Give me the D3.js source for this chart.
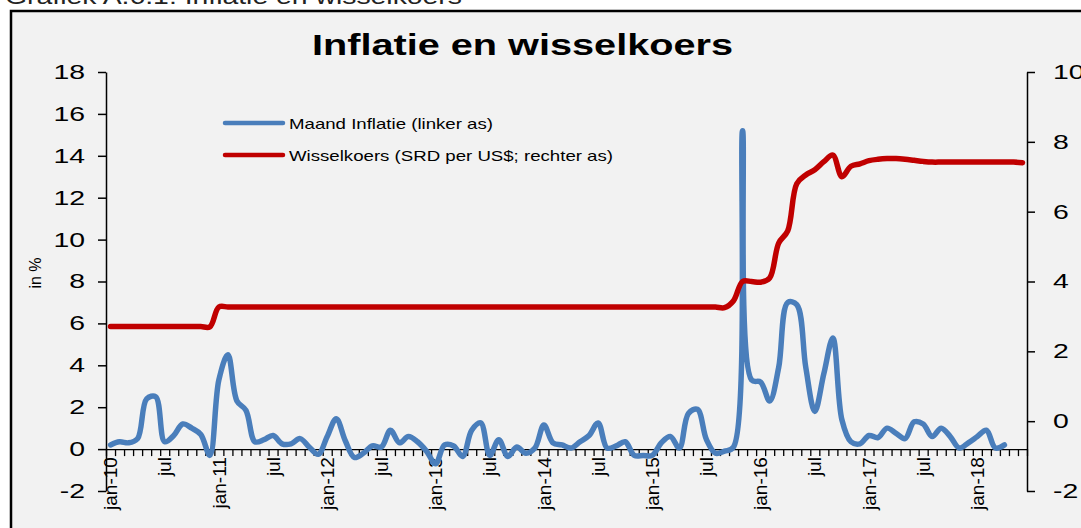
<!DOCTYPE html>
<html>
<head>
<meta charset="utf-8">
<script src="https://cdn.jsdelivr.net/npm/d3@7"></script>
<style>
  html, body { margin: 0; padding: 0; background: #ffffff; }
  svg { display: block; font-family: "Liberation Sans", Arial, sans-serif; }
</style>
</head>
<body>
<svg id="chart" width="1081" height="528"></svg>
<script>
// ---------- data ----------
const captionText = "Grafiek A.6.1: Inflatie en wisselkoers";
const titleText = "Inflatie en wisselkoers";
const yLabelText = "in %";
const seriesNames = ["Maand Inflatie (linker as)", "Wisselkoers (SRD per US$; rechter as)"];

// monthly categories jan-10 .. jun-18
const monthNames = ["jan","feb","mrt","apr","mei","jun","jul","aug","sep","okt","nov","dec"];
const yearsShort = ["10","11","12","13","14","15","16","17","18"];
const categories = [];
yearsShort.forEach(y => monthNames.forEach(m => categories.push(m + "-" + y)));
categories.splice(102); // up to jun-18

// x tick labels (every 6 months)
const tickLabels = ["jan-10","jul","jan-11","jul","jan-12","jul","jan-13","jul","jan-14","jul",
                    "jan-15","jul","jan-16","jul","jan-17","jul","jan-18"];
const tickCategories = ["jan-10","jul-10","jan-11","jul-11","jan-12","jul-12","jan-13","jul-13",
                        "jan-14","jul-14","jan-15","jul-15","jan-16","jul-16","jan-17","jul-17","jan-18"];

const leftTicks = [-2,0,2,4,6,8,10,12,14,16,18];
const rightTicks = [-2,0,2,4,6,8,10];

// Monthly inflation (%), jan-10 .. apr-18
const inflation = [
  0.2, 0.35, 0.3, 0.5, 2.4, 2.5, 0.35, 0.65, 1.2, 1.0, 0.7, -0.3,
  3.3, 4.5, 2.3, 1.85, 0.35, 0.45, 0.65, 0.25, 0.25, 0.5, 0.1, -0.25,
  0.6, 1.45, 0.4, -0.4, -0.2, 0.15, 0.1, 0.9, 0.3, 0.6, 0.35, -0.1,
  -0.7, 0.2, 0.15, -0.35, 0.9, 1.25, -0.3, 0.45, -0.35, 0.1, -0.2, 0.05,
  1.15, 0.3, 0.2, 0.05, 0.35, 0.65, 1.25, 0.05, 0.15, 0.35, -0.3, -0.3,
  -0.3, 0.3, 0.6, 0.05, 1.7, 1.9, 0.45, -0.2, -0.1, 0.1, 15.2, 3.3,
  3.2, 2.3, 3.9, 7.0, 6.9, 3.9, 1.8, 3.6, 5.3, 1.4, 0.35, 0.25,
  0.65, 0.55, 1.0, 0.75, 0.5, 1.3, 1.2, 0.6, 1.0, 0.6, 0.05, 0.3,
  0.6, 0.9, 0.05, 0.2
];

// Exchange rate (SRD per US$), jan-10 .. jun-18
const exchangeRate = [
  2.71, 2.71, 2.71, 2.71, 2.71, 2.71, 2.71, 2.71, 2.71, 2.71, 2.71, 2.70,
  3.27, 3.27, 3.27, 3.27, 3.27, 3.27, 3.27, 3.27, 3.27, 3.27, 3.27, 3.27,
  3.27, 3.27, 3.27, 3.27, 3.27, 3.27, 3.27, 3.27, 3.27, 3.27, 3.27, 3.27,
  3.27, 3.27, 3.27, 3.27, 3.27, 3.27, 3.27, 3.27, 3.27, 3.27, 3.27, 3.27,
  3.27, 3.27, 3.27, 3.27, 3.27, 3.27, 3.27, 3.27, 3.27, 3.27, 3.27, 3.27,
  3.27, 3.27, 3.27, 3.27, 3.27, 3.27, 3.27, 3.27, 3.25, 3.45, 4.0, 4.0,
  3.98, 4.1, 5.1, 5.45, 6.8, 7.05, 7.2, 7.43, 7.62, 7.0, 7.3, 7.37,
  7.46, 7.5, 7.52, 7.52, 7.5, 7.47, 7.44, 7.42, 7.42, 7.42, 7.42, 7.42,
  7.42, 7.42, 7.42, 7.42, 7.42, 7.4
];

// ---------- layout ----------
const svg = d3.select("#chart");
const plotLeft = 106, plotRight = 1027, plotTop = 72, plotBottom = 491;
const blue = "#4a7ebb", red = "#c00000";
const fmt = d => String(d);

// frame
svg.append("rect").attr("x", 0).attr("y", 0).attr("width", 1081).attr("height", 528).attr("fill", "#ffffff");
svg.append("rect").attr("x", 11).attr("y", 11).attr("width", 1100).attr("height", 560)
  .attr("fill", "#f2f2f2").attr("stroke", "#000").attr("stroke-width", 2.5);

// caption (partly cut off at top, as in the reference)
svg.append("text").attr("x", 5).attr("y", 4).attr("font-size", 22)
  .attr("textLength", 457).attr("lengthAdjust", "spacingAndGlyphs")
  .attr("fill", "#222").text(captionText);

// title
svg.append("text").attr("x", 312).attr("y", 55).attr("font-size", 30).attr("font-weight", "bold")
  .attr("textLength", 421).attr("lengthAdjust", "spacingAndGlyphs")
  .attr("fill", "#000").text(titleText);

// scales
const x = d3.scaleBand().domain(categories).range([plotLeft, plotRight]).padding(0);
const xTick = d3.scaleLinear().domain([0, categories.length]).range([plotLeft, plotRight]);
const yL = d3.scaleLinear().domain([-2, 18]).range([plotBottom, plotTop]);
const yR = d3.scaleLinear().domain([-2, 10]).range([plotBottom, plotTop]);
const cx = c => x(c) + x.bandwidth() / 2;

// left axis
const gL = svg.append("g").attr("transform", `translate(${plotLeft},0)`)
  .call(d3.axisLeft(yL).tickValues(leftTicks).tickFormat(fmt).tickSizeInner(8).tickSizeOuter(0).tickPadding(0));
gL.selectAll("path, line").attr("stroke", "#000").attr("stroke-width", 1.5);
gL.selectAll("text").attr("x", 0).attr("font-size", 20).attr("fill", "#000")
  .attr("font-family", "Liberation Sans, Arial, sans-serif")
  .attr("transform", "translate(-21,0) scale(1.42,1)");

// right axis
const gR = svg.append("g").attr("transform", `translate(${plotRight},0)`)
  .call(d3.axisRight(yR).tickValues(rightTicks).tickFormat(fmt).tickSizeInner(8).tickSizeOuter(0).tickPadding(0));
gR.selectAll("path, line").attr("stroke", "#000").attr("stroke-width", 1.5);
gR.selectAll("text").attr("x", 0).attr("font-size", 20).attr("fill", "#000")
  .attr("font-family", "Liberation Sans, Arial, sans-serif")
  .attr("transform", "translate(26,0) scale(1.42,1)");

// x axis (ticks between months)
const gX = svg.append("g").attr("transform", `translate(0,${yL(0)})`)
  .call(d3.axisBottom(xTick).tickValues(d3.range(categories.length + 1)).tickSizeInner(7).tickSizeOuter(0).tickFormat(""));
gX.selectAll("path, line").attr("stroke", "#000").attr("stroke-width", 1.3);

// x labels
svg.append("g").selectAll("text").data(tickCategories).join("text")
  .attr("transform", d => `translate(${cx(d)},${yL(0) + 8}) rotate(-90)`)
  .attr("text-anchor", "end").attr("dy", "0.35em")
  .attr("font-size", 19).attr("fill", "#000")
  .text((d, i) => tickLabels[i]);

// y label
svg.append("text").attr("transform", `translate(41,273) rotate(-90)`)
  .attr("text-anchor", "middle").attr("font-size", 16).attr("fill", "#000")
  .text(yLabelText);

// lines
const lineL = d3.line().x((d, i) => cx(categories[i])).y(d => yL(d)).curve(d3.curveCatmullRom.alpha(0.5));
const lineR = d3.line().x((d, i) => cx(categories[i])).y(d => yR(d)).curve(d3.curveCatmullRom.alpha(0.5));

svg.append("path").datum(inflation).attr("d", lineL)
  .attr("fill", "none").attr("stroke", blue).attr("stroke-width", 5.5)
  .attr("stroke-linejoin", "round").attr("stroke-linecap", "round");
svg.append("path").datum(exchangeRate).attr("d", lineR)
  .attr("fill", "none").attr("stroke", red).attr("stroke-width", 5.5)
  .attr("stroke-linejoin", "round").attr("stroke-linecap", "round");

// legend
const legend = svg.append("g");
const legendY = [123, 155];
const legendColors = [blue, red];
const legendWidths = [204, 324];
seriesNames.forEach((name, i) => {
  legend.append("line").attr("x1", 225).attr("x2", 283).attr("y1", legendY[i]).attr("y2", legendY[i])
    .attr("stroke", legendColors[i]).attr("stroke-width", 4.5).attr("stroke-linecap", "round");
  legend.append("text").attr("x", 289).attr("y", legendY[i] + 5.5).attr("font-size", 14.5)
    .attr("textLength", legendWidths[i]).attr("lengthAdjust", "spacingAndGlyphs")
    .attr("fill", "#000").text(name);
});
</script>
</body>
</html>
